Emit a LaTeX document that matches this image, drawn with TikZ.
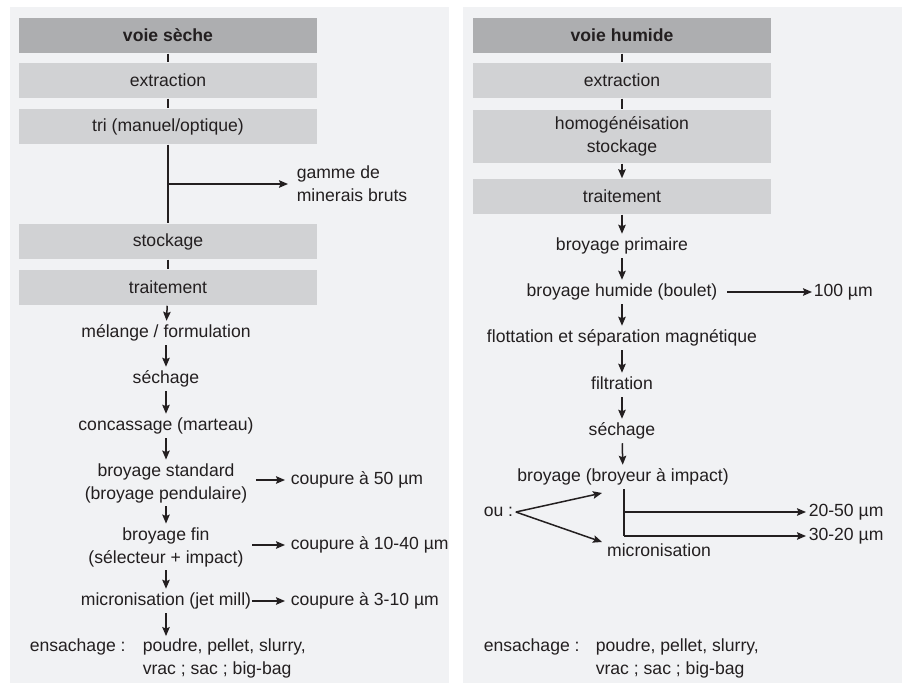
\documentclass[tikz,border=0pt]{standalone}
\usepackage{fontspec}
\setmainfont{Liberation Sans}
\usetikzlibrary{positioning, arrows.meta}

\definecolor{panelbg}{HTML}{F1F2F4}
\definecolor{headgray}{HTML}{ADAEB0}
\definecolor{boxgray}{HTML}{D1D2D4}
\definecolor{ink}{HTML}{231F20}

\begin{document}
\begin{tikzpicture}[
      x=1pt,y=-1pt,
      ->,>={Stealth[length=9pt,width=7.5pt,inset=1.5pt]},
      line width=1.5pt,draw=ink,text=ink,
      font=\fontsize{17.6}{23}\selectfont,
      bar/.style={fill=boxgray,minimum width=298pt,minimum height=35pt,inner sep=0pt},
      head bar/.style={bar,fill=headgray,font=\fontsize{17.6}{23}\selectfont\bfseries},
      stage2/.style={align=center,inner sep=3pt},
      stage/.style={stage2,text height=13pt,text depth=4pt},
      note/.style={align=left,anchor=west,inner sep=2pt}
    ]
    \useasboundingbox (0,0) rectangle (902,684);
    \fill[panelbg] (10,7) rectangle (449,683);
    \fill[panelbg] (463,7) rectangle (902,683);

    % voie seche
    \node[head bar] (headS) at (168,35.5) {voie sèche};
    \node[bar] (extS) at (168,80.5) {extraction};
    \node[bar] (tri) at (168,126.5) {tri (manuel/optique)};
    \node[bar] (stockS) at (168,241.5) {stockage};
    \node[bar] (traitS) at (168,287.5) {traitement};
    \node[note] (gamme) at (294,184) {gamme de\\minerais bruts};
    \node[stage] (melange) at (166,333) {mélange / formulation};
    \node[stage] (sechS) at (166,379) {séchage};
    \node[stage] (conc) at (166,426) {concassage (marteau)};
    \node[stage2] (bstd) at (166,483) {broyage standard\\(broyage pendulaire)};
    \node[stage2] (bfin) at (166,547) {broyage fin\\(sélecteur + impact)};
    \node[stage,inner xsep=0pt] (microS) at (166,601) {micronisation (jet mill)};
    \node[note] (cut50) at (288,480) {coupure à 50 µm};
    \node[note] (cut1040) at (288,545) {coupure à 10-40 µm};
    \node[note] (cut310) at (288,601) {coupure à 3-10 µm};
    \node[note] (ensS) at (27,647) {ensachage :};
    \node[note,anchor=north west] (packS) at (140,636) {poudre, pellet, slurry,\\vrac ; sac ; big-bag};
    \coordinate (brS) at (tri.south |- gamme.west);

    \draw [-] (headS) -- (extS);
    \draw [-] (extS) -- (tri);
    \draw [-] (tri) -- (stockS);
    \draw [-] (stockS) -- (traitS);
    \draw (brS) -- ([xshift=-6pt]gamme.west);
    \draw (traitS) -- (melange);
    \draw (melange) -- (sechS);
    \draw (sechS) -- (conc);
    \draw (conc) -- (bstd);
    \draw (bstd) -- (bfin);
    \draw (bfin) -- (microS);
    \draw (microS) -- (ensS.north -| microS.south);
    \draw ([xshift=5pt]bstd.east |- cut50.west) -- ([xshift=-3pt]cut50.west);
    \draw ([xshift=5pt]bfin.east |- cut1040.west) -- ([xshift=-3pt]cut1040.west);
    \draw (microS.east) -- ([xshift=-3pt]cut310.west);

    % voie humide
    \node[head bar] (headH) at (622,35.5) {voie humide};
    \node[bar] (extH) at (622,80.5) {extraction};
    \node[bar,minimum height=53pt,align=center] (homog) at (622,136.5) {homogénéisation\\stockage};
    \node[bar] (traitH) at (622,196.5) {traitement};
    \node[stage] (bprim) at (622,246) {broyage primaire};
    \node[stage] (bhum) at (622,292) {broyage humide (boulet)};
    \node[stage] (flot) at (622,338) {flottation et séparation magnétique};
    \node[stage] (filt) at (622,385) {filtration};
    \node[stage] (sechH) at (622,431) {séchage};
    \node[stage] (bimp) at (623,477) {broyage (broyeur à impact)};
    \node[stage] (microH) at (659,552) {micronisation};
    \node[note] (ou) at (481,512) {ou :};
    \node[note] (r100) at (811,292) {100 µm};
    \node[note] (r2050) at (806,512) {20-50 µm};
    \node[note] (r3020) at (806,536) {30-20 µm};
    \node[note] (ensH) at (481,647) {ensachage :};
    \node[note,anchor=north west] (packH) at (593,636) {poudre, pellet, slurry,\\vrac ; sac ; big-bag};
    \coordinate (toimp) at (602,493);
    \coordinate (tomic) at (602,542);
    \coordinate (split) at (624,536);

    \draw [-] (headH) -- (extH);
    \draw [-] (extH) -- (homog);
    \draw (homog) -- (traitH);
    \draw (traitH) -- (bprim);
    \draw (bprim) -- (bhum);
    \draw (bhum) -- (flot);
    \draw (flot) -- (filt);
    \draw (filt) -- (sechH);
    \draw (sechH) -- (bimp);
    \draw ([xshift=6pt]bhum.east) -- ([xshift=1pt]r100.west);
    \draw (ou.east) -- (toimp);
    \draw (ou.east) -- (tomic);
    \draw [-] ([xshift=1pt]bimp.south) -- (split);
    \draw (split |- r2050.west) -- (r2050.west);
    \draw (split) -- (r3020.west);
  \end{tikzpicture}
\end{document}
